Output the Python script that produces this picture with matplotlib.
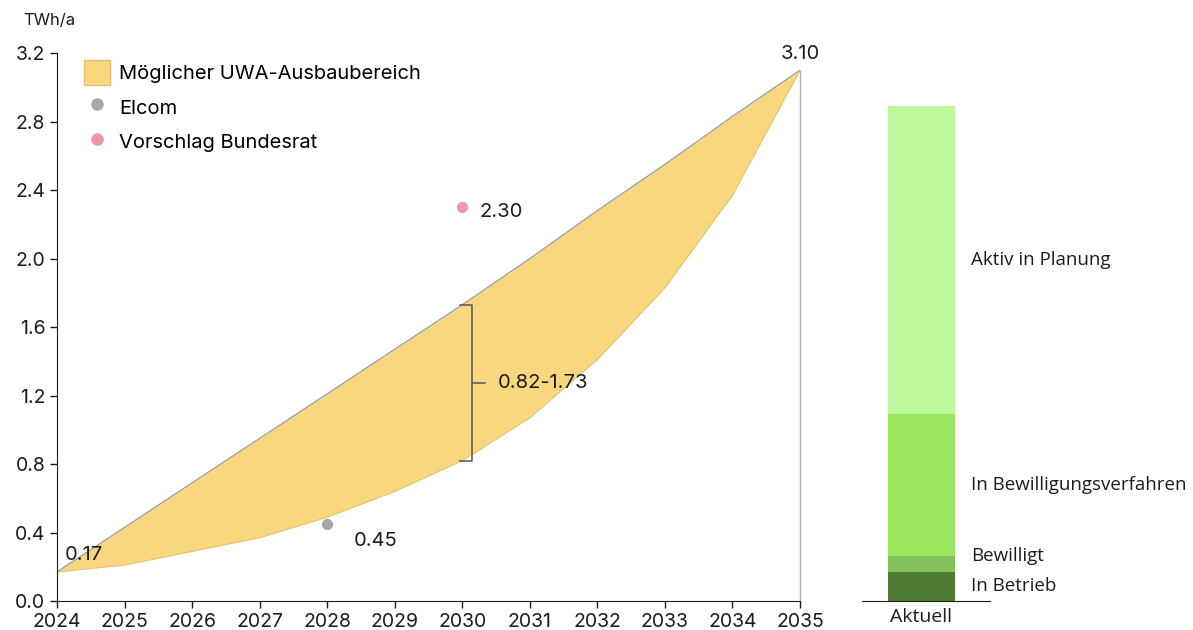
"""UWA-Ausbaubereich 2024-2035 mit Projektstand (Aktuell)."""

import numpy as np
import matplotlib.pyplot as plt
from matplotlib.patches import Patch
from matplotlib.lines import Line2D

plt.rcParams['font.family'] = ['Inter', 'DejaVu Sans']

# Ausbaubereich (TWh/a)
years = np.arange(2024, 2036)
upper = [0.17, 0.43, 0.69, 0.95, 1.21, 1.47, 1.73, 2.00, 2.28, 2.55, 2.83, 3.10]
lower = [0.17, 0.21, 0.29, 0.37, 0.49, 0.64, 0.82, 1.07, 1.41, 1.83, 2.37, 3.10]

elcom_year, elcom_value = 2028, 0.45
bundesrat_year, bundesrat_value = 2030, 2.30

# Projektstand, von unten nach oben
stack_labels = ["In Betrieb", "Bewilligt", "In Bewilligungsverfahren", "Aktiv in Planung"]
stack_values = [0.17, 0.09, 0.83, 1.80]
stack_colors = ["#4f7a32", "#84c15a", "#9be65f", "#bdf89d"]

TXT = "#1c1c1c"
fig = plt.figure(figsize=(11.93, 6.30), dpi=100)
ax = fig.add_axes([0.0478, 0.046, 0.6228, 0.8698])
ax2 = fig.add_axes([0.7225, 0.046, 0.1073, 0.8698])

# Band
ax.fill_between(years, lower, upper, color="#f8d77f", lw=0, zorder=1)
ax.plot(years, upper, color="#9a9a9a", lw=0.9, zorder=2)
ax.plot(years, lower, color="#e0c070", lw=0.6, zorder=2)
ax.vlines(years[-1], 0, upper[-1], color="#b0b0b0", lw=1, zorder=0, clip_on=False)

# Punkte
ax.scatter([elcom_year], [elcom_value], s=50, color="#a8a8a8", zorder=4)
ax.scatter([bundesrat_year], [bundesrat_value], s=50, color="#eb9aa3", zorder=4)
ax.text(elcom_year + 0.4, elcom_value - 0.1, f"{elcom_value:.2f}", fontsize=14.5,
        va='center', color=TXT)
ax.text(bundesrat_year + 0.25, bundesrat_value - 0.03, f"{bundesrat_value:.2f}",
        fontsize=14.5, va='center', color=TXT)
ax.text(years[0] + 0.12, upper[0] + 0.1, f"{upper[0]:.2f}", fontsize=14.5,
        va='center', color=TXT)
ax.text(years[-1], upper[-1] + 0.04, f"{upper[-1]:.2f}", fontsize=14.5,
        ha='center', va='bottom', color=TXT)

# Klammer 2030
lo, hi = lower[6], upper[6]
bx = 2030.14
ax.plot([bx - 0.17, bx, bx, bx - 0.17], [hi, hi, lo, lo], color="#555555", lw=1.1, zorder=3)
ax.plot([bx, bx + 0.2], [(lo + hi) / 2] * 2, color="#555555", lw=1.1, zorder=3)
ax.text(bx + 0.38, (lo + hi) / 2, f"{lo:.2f}-{hi:.2f}", fontsize=14.5, va='center',
        color=TXT)

ax.set_xlim(2024, 2035)
ax.set_ylim(0, 3.2)
ax.set_xticks(years)
ax.set_yticks(np.arange(0, 3.21, 0.4))
ax.yaxis.set_major_formatter(plt.FuncFormatter(lambda v, p: f"{v:.1f}"))
ax.tick_params(labelsize=14, colors=TXT, length=5, width=1)
for s in ["top", "right"]:
    ax.spines[s].set_visible(False)
ax.spines["left"].set_color(TXT)
ax.spines["bottom"].set_color(TXT)
ax.text(-0.045, 1.06, "TWh/a", transform=ax.transAxes, fontsize=12, va='center',
        color=TXT)

handles = [
    Patch(facecolor="#f8d77f", edgecolor="#e0c070", label="Möglicher UWA-Ausbaubereich"),
    Line2D([], [], marker='o', ls='', color="#a8a8a8", markersize=8, label="Elcom"),
    Line2D([], [], marker='o', ls='', color="#eb9aa3", markersize=8, label="Vorschlag Bundesrat"),
]
ax.legend(handles=handles, loc='upper left', bbox_to_anchor=(0.012, 1.02), frameon=False,
          fontsize=14.5, handlelength=1.3, handleheight=1.5, handletextpad=0.45,
          labelspacing=0.5)

# Gestapelter Balken
bottom = 0
for val, col, lab in zip(stack_values, stack_colors, stack_labels):
    ax2.bar(0, val, bottom=bottom, width=0.52, color=col, lw=0)
    bottom += val
label_y = [0.085, 0.265, 0.675, 1.99]
for y, lab in zip(label_y, stack_labels):
    ax2.text(0.39, y, lab, fontsize=13.5, va='center', family=['Open Sans', 'DejaVu Sans'],
             color=TXT)

ax2.set_xlim(-0.465, 0.535)
ax2.set_ylim(0, 3.2)
ax2.set_xticks([0])
ax2.set_xticklabels(["Aktuell"], family=['Open Sans', 'DejaVu Sans'])
ax2.tick_params(axis='x', length=0, labelsize=14, colors=TXT, pad=5)
ax2.set_yticks([])
for s in ["top", "right", "left"]:
    ax2.spines[s].set_visible(False)
ax2.spines["bottom"].set_color(TXT)

fig.savefig("out.png", dpi=100)
